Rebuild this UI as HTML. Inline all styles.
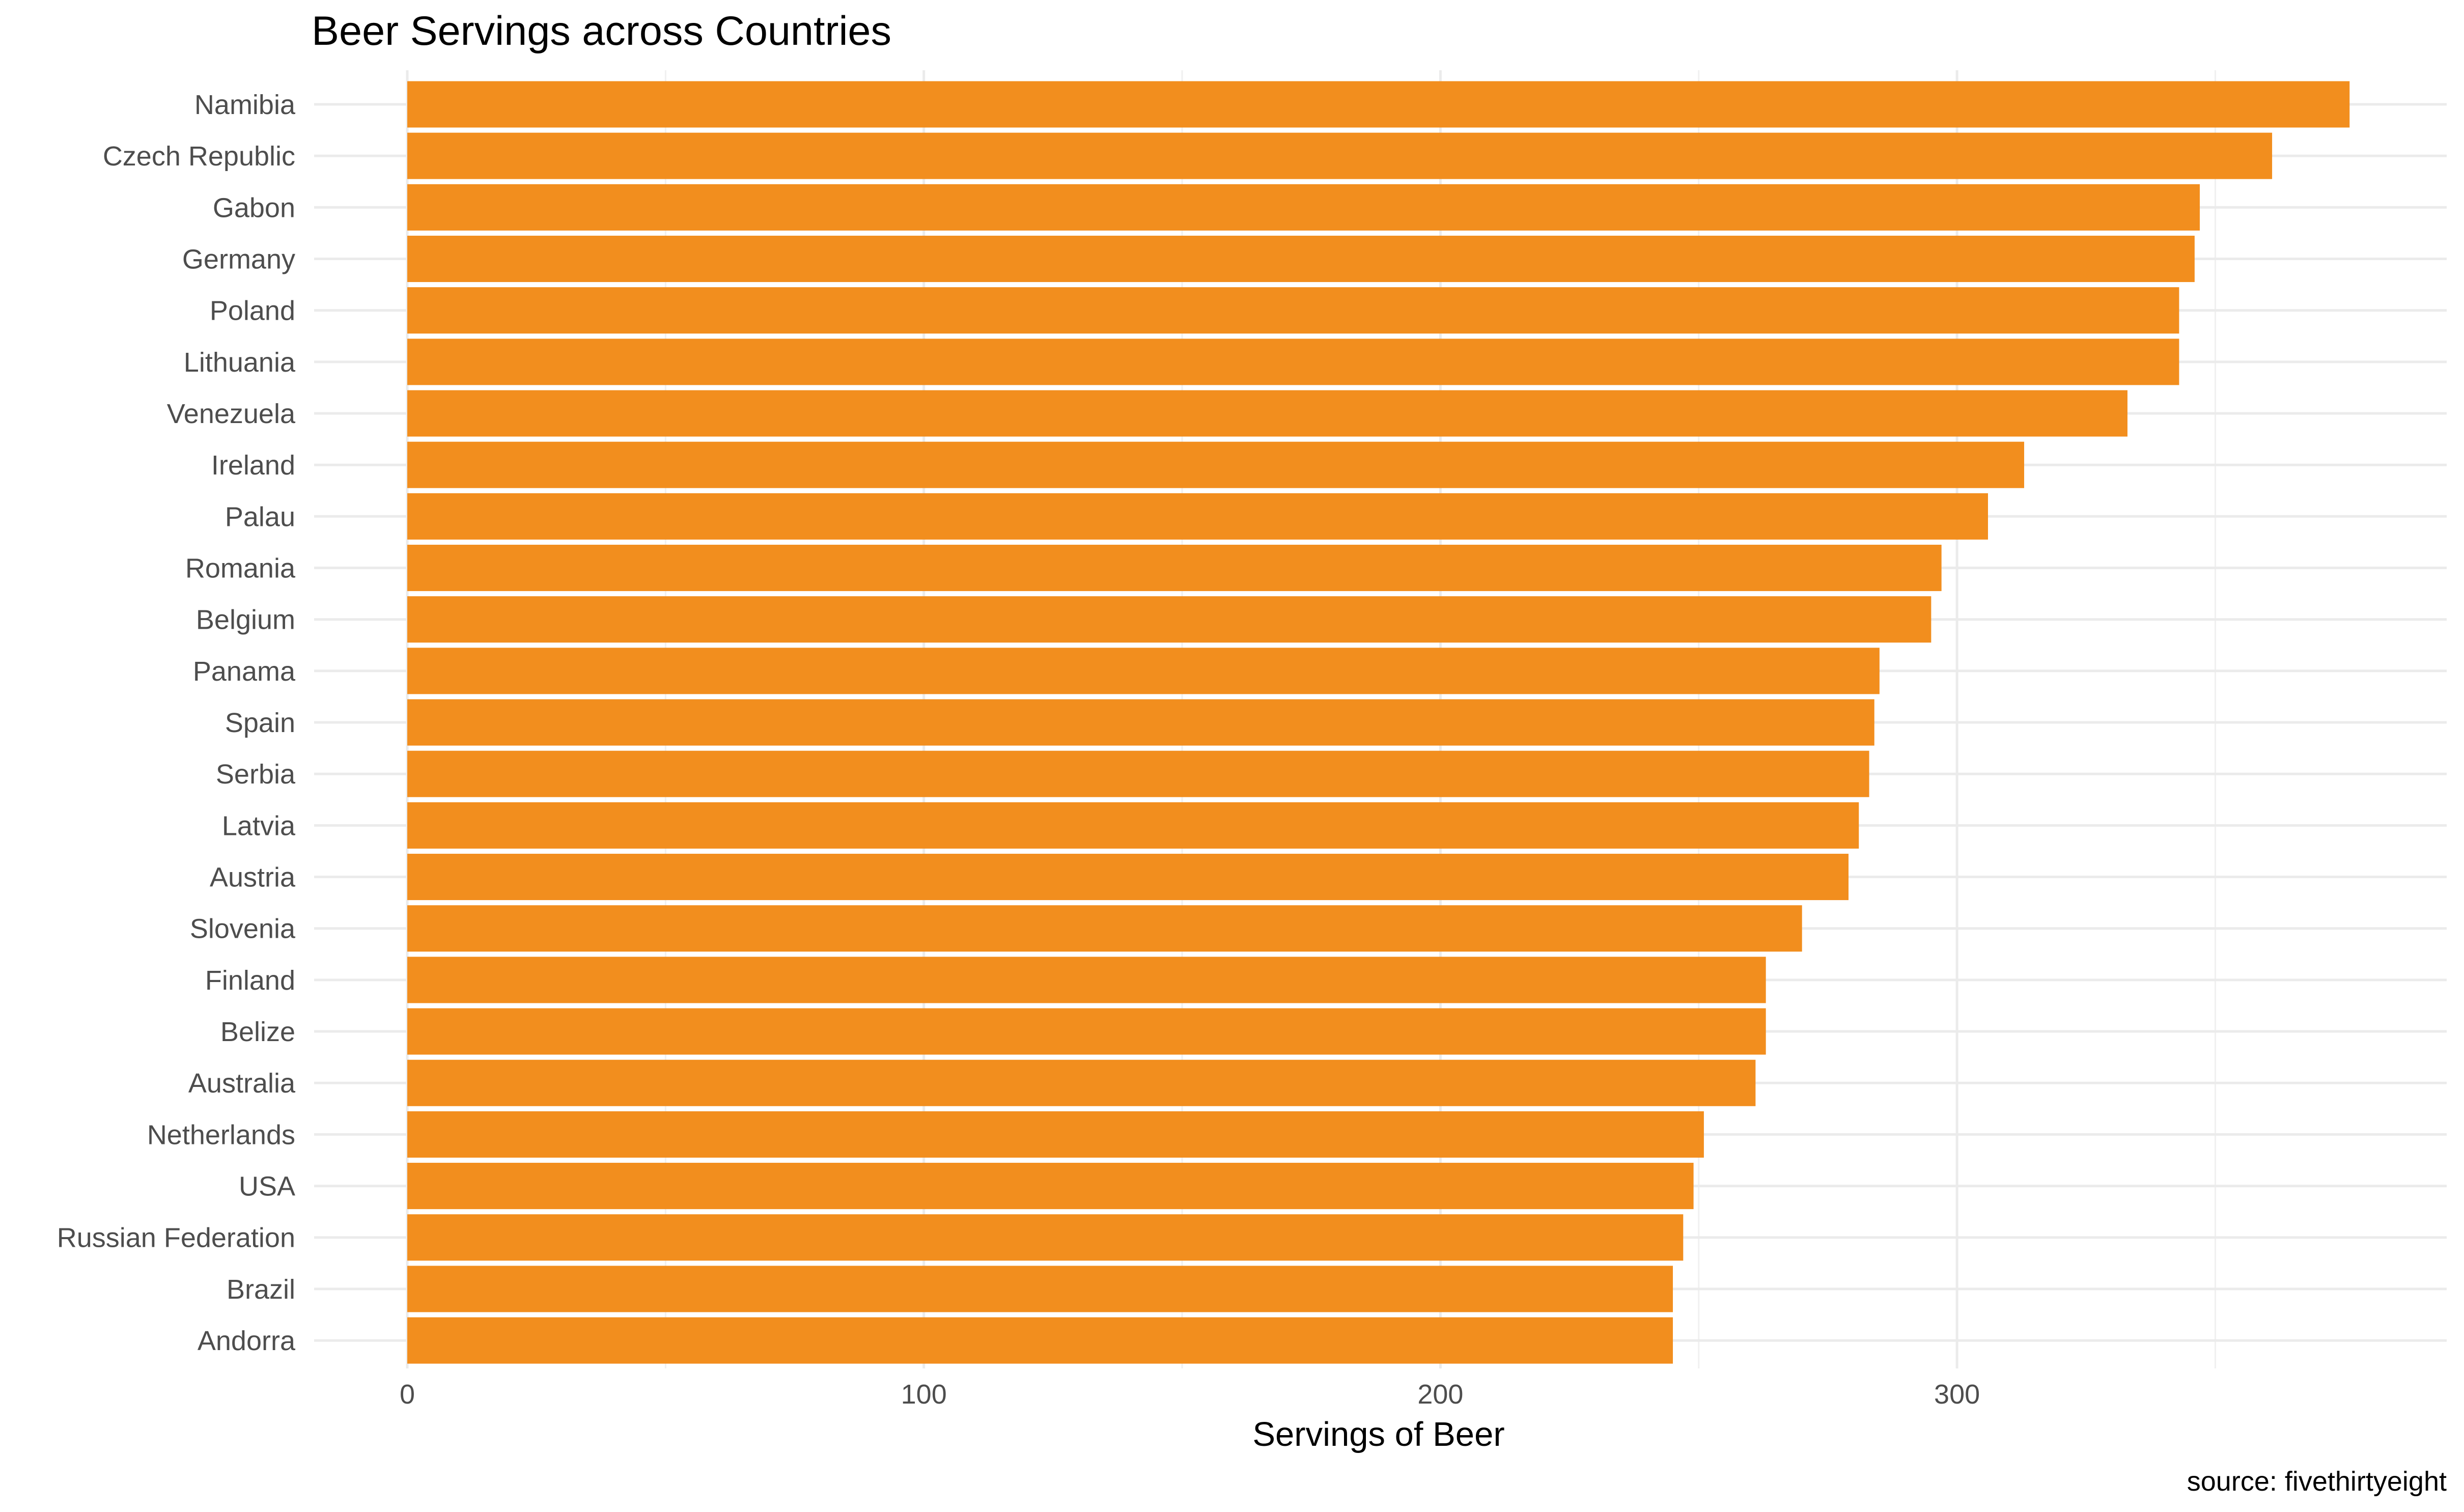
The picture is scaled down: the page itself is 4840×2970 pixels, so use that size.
<!DOCTYPE html>
<html><head><meta charset="utf-8">
<style>
html,body{margin:0;padding:0;background:#fff;}
svg{display:block;font-family:"Liberation Sans",Arial,sans-serif;}
</style></head>
<body>
<svg id="chart" width="4840" height="2970" viewBox="0 0 4840 2970" xmlns="http://www.w3.org/2000/svg">
<rect width="4840" height="2970" fill="#fff"/>
<text x="612" y="88" font-size="81" fill="#000">Beer Servings across Countries</text>
<g id="grid"></g>
<g id="bars"></g>
<g id="ylabels"></g>
<g id="xlabels"></g>
<text x="2708" y="2840" font-size="67" text-anchor="middle" fill="#000">Servings of Beer</text>
<text x="4806" y="2928" font-size="54" text-anchor="end" fill="#000">source: fivethirtyeight</text>
</svg>
<script>
const countries = ["Namibia","Czech Republic","Gabon","Germany","Poland","Lithuania","Venezuela","Ireland","Palau","Romania","Belgium","Panama","Spain","Serbia","Latvia","Austria","Slovenia","Finland","Belize","Australia","Netherlands","USA","Russian Federation","Brazil","Andorra"];
const servings = [376,361,347,346,343,343,333,313,306,297,295,285,284,283,281,279,270,263,263,261,251,249,247,245,245];
const majorTicks = [0,100,200,300];
const minorTicks = [50,150,250,350];

const NS = "http://www.w3.org/2000/svg";
const x0 = 800, pxPer = 10.147;
const xs = v => x0 + v * pxPer;
const yTop = 205, step = 101.17;
const ys = i => yTop + i * step;
const panelL = 617, panelR = 4806, panelT = 138, panelB = 2688;

function mk(tag, attrs, parent){
  const e = document.createElementNS(NS, tag);
  for (const k in attrs) e.setAttribute(k, attrs[k]);
  parent.appendChild(e);
  return e;
}
const grid = document.getElementById('grid');
minorTicks.forEach(t => {
  const l = mk('line', {x1: xs(t), x2: xs(t), y1: panelT, y2: panelB, stroke: '#f0f0f0', 'stroke-width': 3}, grid);
  
  
});
majorTicks.forEach(t => {
  const l = mk('line', {x1: xs(t), x2: xs(t), y1: panelT, y2: panelB, stroke: '#ebebeb', 'stroke-width': 5}, grid);
  
  
});
countries.forEach((c, i) => {
  const l = mk('line', {x1: panelL, x2: panelR, y1: ys(i), y2: ys(i), stroke: '#ebebeb', 'stroke-width': 5}, grid);
  
  
});
const bars = document.getElementById('bars');
const bh = step * 0.9;
countries.forEach((c, i) => {
  const r = mk('rect', {x: xs(0), y: ys(i) - bh / 2, width: xs(servings[i]) - xs(0), height: bh, fill: '#F28E1E'}, bars);
  
  
});
const yl = document.getElementById('ylabels');
countries.forEach((c, i) => {
  const t = mk('text', {x: 580, y: ys(i) + 19, 'font-size': 54, 'text-anchor': 'end', fill: '#4d4d4d'}, yl);
  t.textContent = c;
  
  
});
const xl = document.getElementById('xlabels');
majorTicks.forEach(v => {
  const t = mk('text', {x: xs(v), y: 2757, 'font-size': 54, 'text-anchor': 'middle', fill: '#4d4d4d'}, xl);
  t.textContent = v;
  
  
});
</script>
</body></html>
